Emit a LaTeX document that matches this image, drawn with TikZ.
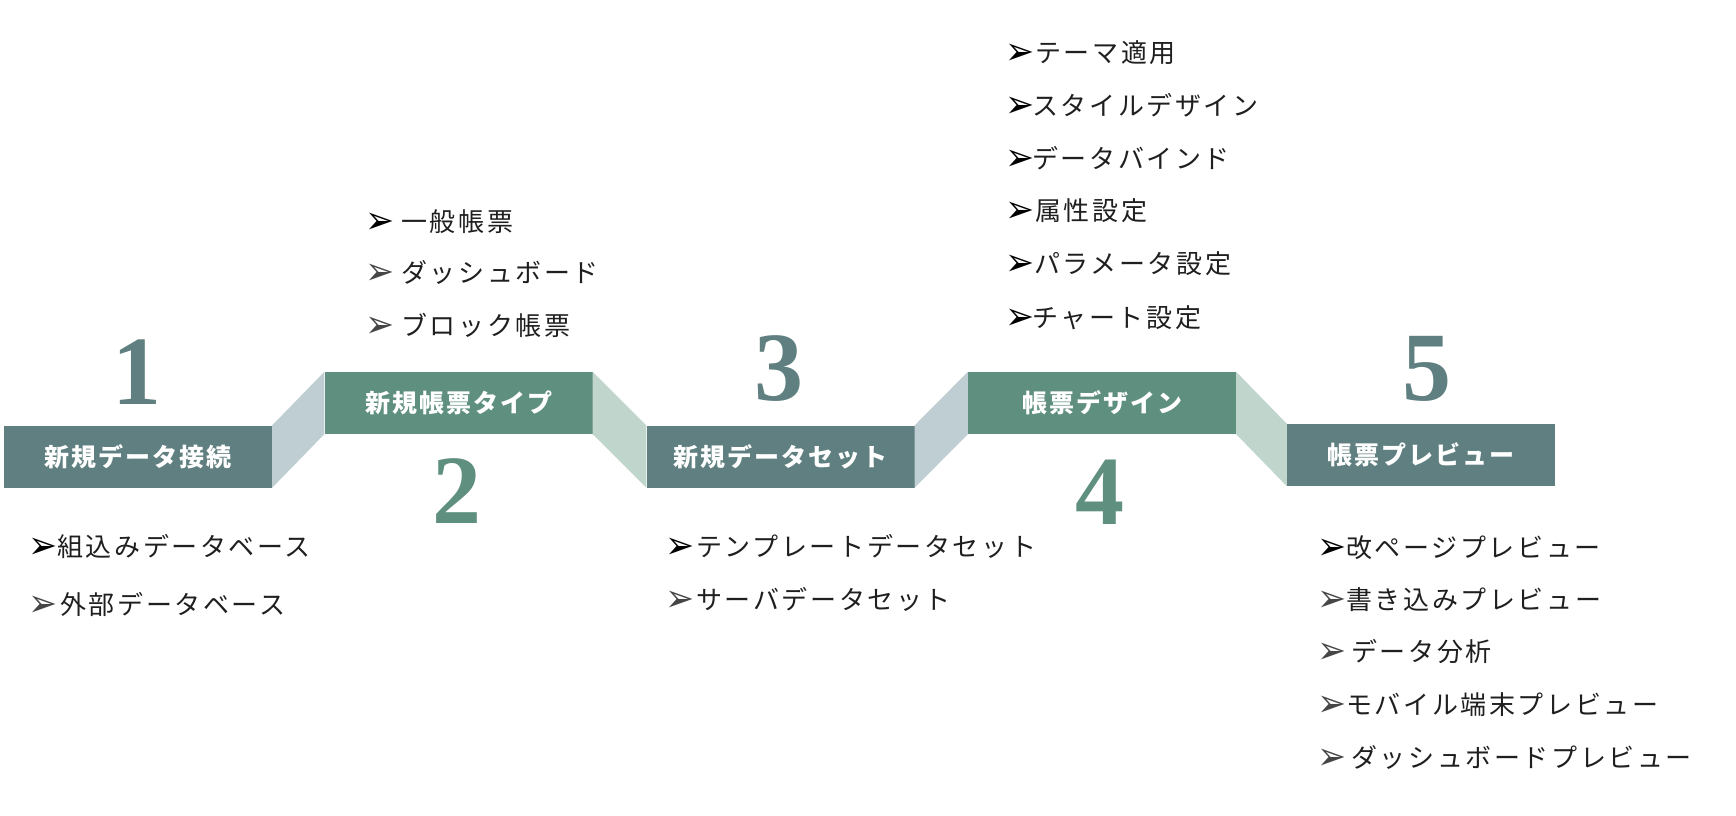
\documentclass[tikz,border=0pt]{standalone}
\usepackage{fontspec}
\newfontfamily\jpsp{Noto Sans CJK JP}[LetterSpace=10]
\newfontfamily\jpbox{Noto Sans CJK JP}[LetterSpace=8]
\newfontfamily\dvfont{DejaVu Sans}
\newfontfamily\numfont{Liberation Serif}
\definecolor{slate}{RGB}{95,127,128}
\definecolor{sage}{RGB}{95,143,126}
\definecolor{lslate}{RGB}{190,206,210}
\definecolor{lsage}{RGB}{192,213,204}
\definecolor{bgray}{RGB}{70,70,70}
\newcommand{\mybul}[1]{\raisebox{-1.5pt}{\dvfont\color{#1}\scalebox{1.45}[1.6]{\fontsize{24}{24}\selectfont ➢}}}
\tikzset{
  stepbox/.style={minimum width=268pt, minimum height=62pt, inner sep=0pt, text=white,
    font=\jpbox\bfseries\fontsize{25}{25}\selectfont},
  bignum/.style={anchor=base, inner sep=0pt, font=\numfont\bfseries\fontsize{98}{98}\selectfont},
  item/.style={anchor=west, inner sep=0pt, text=black!88, text height=0.88em, text depth=0.12em,
    font=\jpsp\fontsize{26}{26}\selectfont},
}
\begin{document}
\begin{tikzpicture}[x=1pt,y=-1pt]
\useasboundingbox (0,0) rectangle (1736,815);
% boxes
\node[stepbox, fill=slate] (b1) at (138,456.5) {新規データ接続};
\node[stepbox, fill=sage]  (b2) at (458.5,403) {新規帳票タイプ};
\node[stepbox, fill=slate] (b3) at (780.5,456.5) {新規データセット};
\node[stepbox, fill=sage]  (b4) at (1102,403) {帳票デザイン};
\node[stepbox, fill=slate] (b5) at (1421,455) {帳票プレビュー};
% connectors
\fill[lslate] (b1.north east) -- (b2.north west) -- (b2.south west) -- (b1.south east) -- cycle;
\fill[lsage]  (b2.north east) -- (b3.north west) -- (b3.south west) -- (b2.south east) -- cycle;
\fill[lslate] (b3.north east) -- (b4.north west) -- (b4.south west) -- (b3.south east) -- cycle;
\fill[lsage]  (b4.north east) -- (b5.north west) -- (b5.south west) -- (b4.south east) -- cycle;
% numbers
\node[bignum, text=slate] (n1) at (137,404) {1};
\node[bignum, text=sage]  (n2) at (457,523) {2};
\node[bignum, text=slate] (n3) at (779,400) {3};
\node[bignum, text=sage]  (n4) at (1100,524) {4};
\node[bignum, text=slate] (n5) at (1427,400) {5};
% group 1
\node[item] (i11) at (28,553) {\mybul{black}\hspace{0pt}組込みデータベース};
\node[item] (i12) at (28,611) {\mybul{bgray}\hspace{3pt}外部データベース};
% group 2
\node[item] (i21) at (365,228) {\mybul{black}\hspace{7pt}一般帳票};
\node[item] (i22) at (365,279) {\mybul{bgray}\hspace{7pt}ダッシュボード};
\node[item] (i23) at (365,332) {\mybul{bgray}\hspace{7pt}ブロック帳票};
% group 3
\node[item] (i31) at (665,553) {\mybul{black}\hspace{2pt}テンプレートデータセット};
\node[item] (i32) at (665,606) {\mybul{bgray}\hspace{2pt}サーバデータセット};
% group 4
\node[item] (i41) at (1005,59)  {\mybul{black}\hspace{1pt}テーマ適用};
\node[item] (i42) at (1005,112) {\mybul{black}\hspace{-2pt}スタイルデザイン};
\node[item] (i43) at (1005,165) {\mybul{black}\hspace{-2pt}データバインド};
\node[item] (i44) at (1005,217) {\mybul{black}\hspace{1pt}属性設定};
\node[item] (i45) at (1005,270) {\mybul{black}\hspace{0pt}パラメータ設定};
\node[item] (i46) at (1005,324) {\mybul{black}\hspace{-2pt}チャート設定};
% group 5
\node[item] (i51) at (1317,554) {\mybul{black}\hspace{0pt}改ページプレビュー};
\node[item] (i52) at (1317,606) {\mybul{bgray}\hspace{0pt}書き込みプレビュー};
\node[item] (i53) at (1317,658) {\mybul{bgray}\hspace{5pt}データ分析};
\node[item] (i54) at (1317,711) {\mybul{bgray}\hspace{0pt}モバイル端末プレビュー};
\node[item] (i55) at (1317,764) {\mybul{bgray}\hspace{5pt}ダッシュボードプレビュー};
\end{tikzpicture}
\end{document}
